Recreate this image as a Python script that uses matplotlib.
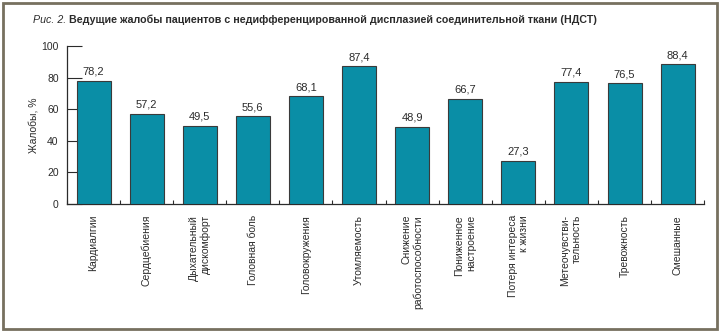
import matplotlib.pyplot as plt
import numpy as np
from matplotlib.patches import Rectangle

plt.rcParams['font.family'] = ['Liberation Sans Narrow', 'Liberation Sans', 'DejaVu Sans']

complaints = [
    'Кардиалгии', 'Сердцебиения', 'Дыхательный\nдискомфорт', 'Головная боль',
    'Головокружения', 'Утомляемость', 'Снижение\nработоспособности',
    'Пониженное\nнастроение', 'Потеря интереса\nк жизни', 'Метеочувстви-\nтельность',
    'Тревожность', 'Смешанные',
]
percent = [78.2, 57.2, 49.5, 55.6, 68.1, 87.4, 48.9, 66.7, 27.3, 77.4, 76.5, 88.4]
y_ticks = [0, 20, 40, 60, 80, 100]

bar_color = '#0a8ea6'
ink = '#2b2b2b'

fig = plt.figure(figsize=(7.2, 3.32), dpi=100)
ax = fig.add_axes([0.093, 0.386, 0.885, 0.475])

x = np.arange(len(percent))
bars = ax.bar(x, percent, width=0.64, color=bar_color, edgecolor='#3a3a3a',
              linewidth=0.8, zorder=3)
for b, v in zip(bars, percent):
    ax.text(b.get_x() + b.get_width() / 2, v + 2.5, f'{v:.1f}'.replace('.', ','),
            ha='center', va='bottom', fontsize=8, color=ink)

ax.set_xlim(-0.5, len(percent) - 0.5)
ax.set_ylim(0, 100)
ax.set_yticks(y_ticks)
ax.tick_params(axis='y', direction='in', length=11, width=0.8, color=ink,
               labelsize=7.5, pad=6, labelcolor=ink)

ax.set_xticks(x)
ax.set_xticklabels(complaints, rotation=90, va='top', ha='center',
                   multialignment='right', fontsize=7.5, color=ink)
ax.tick_params(axis='x', which='major', length=0, pad=8)
ax.set_xticks(np.arange(len(percent) + 1) - 0.5, minor=True)
ax.tick_params(axis='x', which='minor', direction='in', length=3, width=0.8, color=ink)

ax.set_ylabel('Жалобы, %', fontsize=7.5, color=ink, labelpad=2)

for side in ('top', 'right'):
    ax.spines[side].set_visible(False)
for side in ('left', 'bottom'):
    ax.spines[side].set_color(ink)
    ax.spines[side].set_linewidth(0.9)

# caption: italic figure number followed by bold title
t1 = fig.text(0.046, 0.94, 'Рис. 2.', fontsize=7.7, style='italic', color=ink,
              va='center')
fig.canvas.draw()
bb = t1.get_window_extent()
fig.text((bb.x1 + 3) / fig.bbox.width, 0.94,
         'Ведущие жалобы пациентов с недифференцированной дисплазией соединительной ткани (НДСТ)',
         fontsize=7.7, fontweight='bold', color=ink, va='center')

fig.patches.append(Rectangle((0.004, 0.009), 0.992, 0.982, transform=fig.transFigure,
                             fill=False, edgecolor='#77705f', linewidth=2))

fig.savefig('out.png', dpi=100)
plt.close(fig)
